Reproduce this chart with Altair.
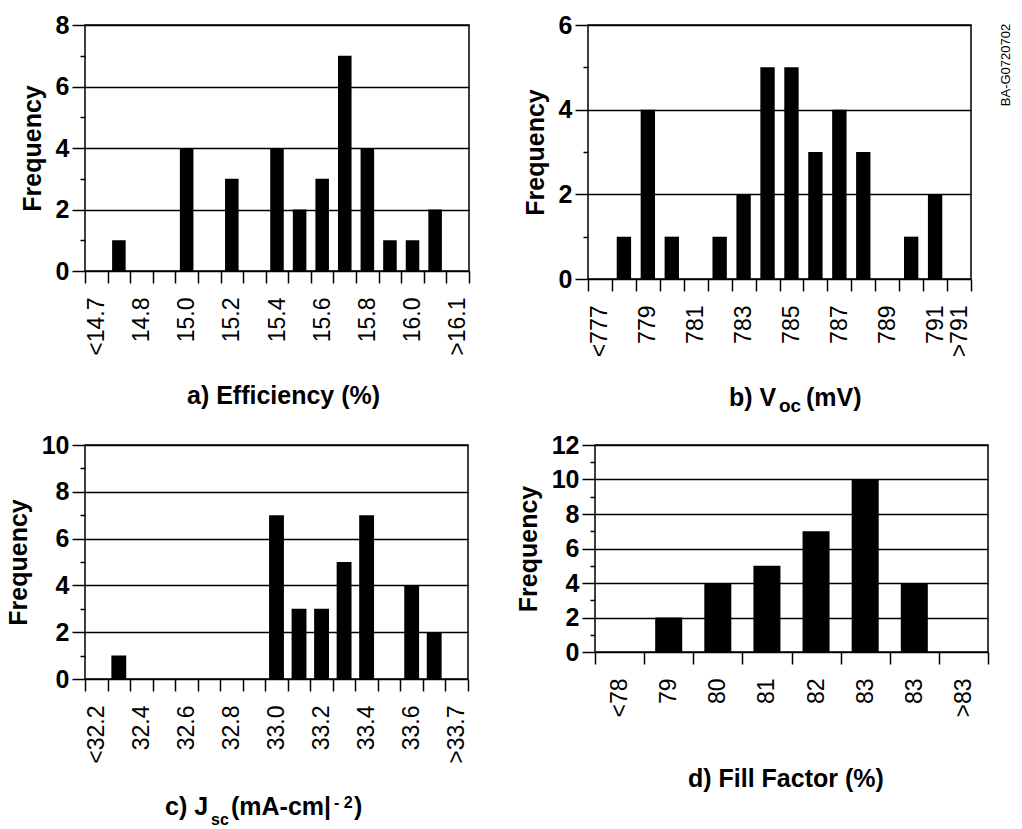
import json
import altair as alt
import pandas as pd

FONT = "Liberation Sans"

# ---------------- data ----------------
a_labels = ["<14.7", "", "14.8", "", "15.0", "", "15.2", "", "15.4", "", "15.6", "", "15.8", "", "16.0", "", ">16.1"]
a_counts = [0, 1, 0, 0, 4, 0, 3, 0, 4, 2, 3, 7, 4, 1, 1, 2, 0]

b_labels = ["<777", "", "779", "", "781", "", "783", "", "785", "", "787", "", "789", "", "791", ">791"]
b_counts = [0, 1, 4, 1, 0, 1, 2, 5, 5, 3, 4, 3, 0, 1, 2, 0]

c_labels = ["<32.2", "", "32.4", "", "32.6", "", "32.8", "", "33.0", "", "33.2", "", "33.4", "", "33.6", "", ">33.7"]
c_counts = [0, 1, 0, 0, 0, 0, 0, 0, 7, 3, 3, 5, 7, 0, 4, 2, 0]

d_labels = ["<78", "79", "80", "81", "82", "83", "83", ">83"]
d_counts = [0, 2, 4, 5, 7, 10, 4, 0]

y_title = "Frequency"
a_caption = ["a) Efficiency (%)"]
b_caption = ["b) V", "oc", "(mV)"]
c_caption = ["c) J", "sc", "(mA-cm|", "- 2", ")"]
d_caption = ["d) Fill Factor (%)"]
side_note = ["BA-G0720702"]

# ---------------- styles (pixel offsets for caption pieces: dx, dy, size) ----------------
a_cap_style = [(0, 0, 25)]
b_cap_style = [(0, 0, 25), (50, 6, 19), (77, 0, 25)]
c_cap_style = [(0, 0, 25), (46, 10, 16), (66, 0, 25), (169, -7, 16), (189, 0, 25)]
d_cap_style = [(0, 0, 25)]


def panel(labels, counts, ymax, w, h, barfrac, cap_texts, cap_style, cap_x, cap_y, extra=None):
    df = pd.DataFrame({"slot": list(range(len(counts))), "count": counts})
    label_expr = json.dumps(labels) + "[datum.value]"
    bars = alt.Chart(df).mark_bar(color="black", width=alt.RelativeBandSize(barfrac)).encode(
        x=alt.X(
            "slot:O",
            scale=alt.Scale(paddingInner=0, paddingOuter=0),
            axis=alt.Axis(
                title=None,
                tickBand="extent",
                labelExpr=label_expr,
                labelAngle=270,
                labelAlign="right",
                labelBaseline="middle",
                labelOverlap=False,
                tickSize=12,
                tickWidth=1.5,
                labelPadding=14,
                labelFontSize=23,
                grid=False,
                domain=False,
            ),
        ),
        y=alt.Y(
            "count:Q",
            scale=alt.Scale(domain=[0, ymax], nice=False),
            axis=alt.Axis(
                title=y_title,
                values=list(range(ymax + 1)),
                labelExpr="datum.value % 2 === 0 ? datum.label : ''",
                tickSize={"condition": {"test": "datum.value % 2 === 1", "value": 5}, "value": 13},
                tickWidth=1.5,
                grid=True,
                gridOpacity={"condition": {"test": "datum.value % 2 === 1", "value": 0}, "value": 1},
                gridWidth=1.4,
                labelFontSize=25,
                labelFontWeight="bold",
                labelPadding=3,
                titleFontSize=25,
                titleFontWeight="bold",
                titlePadding=10,
                domain=False,
            ),
        ),
    )
    layers = [bars]
    for txt, (dx, dy, size) in zip(cap_texts, cap_style):
        t = alt.Chart(pd.DataFrame({"t": [txt]})).mark_text(
            align="left", baseline="alphabetic", fontSize=size, fontWeight="bold",
            font=FONT, color="black",
        ).encode(text="t:N", x=alt.value(cap_x + dx), y=alt.value(cap_y + dy))
        layers.append(t)
    if extra is not None:
        layers.append(extra)
    return alt.layer(*layers).properties(width=w, height=h)


note = alt.Chart(pd.DataFrame({"t": side_note})).mark_text(
    angle=270, align="center", baseline="middle", fontSize=13, font=FONT, color="black"
).encode(text="t:N", x=alt.value(418), y=alt.value(40))

pa = panel(a_labels, a_counts, 8, 384, 246, 0.6, a_caption, a_cap_style, 102, 246 + 133)
pb = panel(b_labels, b_counts, 6, 383, 254, 0.6, b_caption, b_cap_style, 141, 254 + 127, extra=note)
pc = panel(c_labels, c_counts, 10, 383, 234, 0.66, c_caption, c_cap_style, 80, 234 + 136)
pd_ = panel(d_labels, d_counts, 12, 393, 207, 0.55, d_caption, d_cap_style, 93, 207 + 135)

top = alt.hconcat(pa, pb, spacing=51)
bottom = alt.hconcat(pc, pd_, spacing=45)

chart = (
    alt.vconcat(top, bottom, spacing=15)
    .properties(padding={"left": 5, "top": 12, "right": 0, "bottom": 0}, background="white")
    .configure_view(stroke="black", strokeWidth=1.5)
    .configure_axis(
        labelFont=FONT, titleFont=FONT, labelColor="black", titleColor="black",
        tickColor="black", domainColor="black", gridColor="black",
    )
)

chart.save("out.html", embed_options={"renderer": "svg", "actions": False})
